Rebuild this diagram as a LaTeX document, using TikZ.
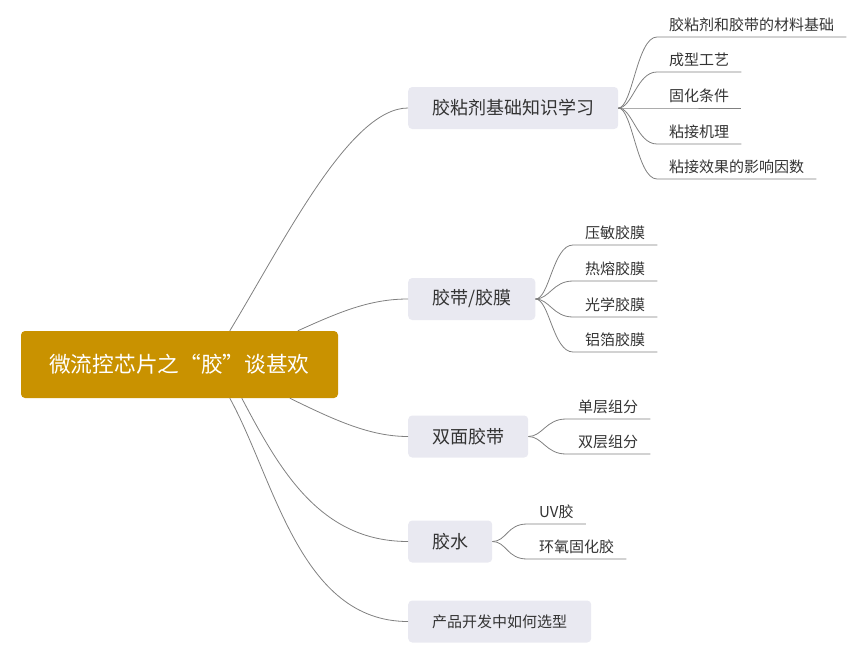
\documentclass[tikz,border=0pt]{standalone}
\usepackage{fontspec}
\setmainfont{Noto Sans CJK SC}
\definecolor{rootcol}{HTML}{C99200}
\definecolor{branchcol}{HTML}{E9E9F1}
\definecolor{textcol}{HTML}{333333}
\definecolor{linecol}{HTML}{808080}

\begin{document}
\begin{tikzpicture}
[x=1pt, y=-1pt,
 root/.style={fill=rootcol, text=white, rounded corners=4pt, minimum width=317pt, minimum height=67pt, font=\fontsize{21.7}{26}\selectfont},
 branch/.style={fill=branchcol, text=textcol, rounded corners=4pt, minimum height=42pt, inner xsep=24pt, anchor=west, font=\fontsize{18}{22}\selectfont},
 leaf/.style={text=textcol, inner xsep=12pt, inner ysep=5pt, anchor=south west, font=\fontsize{15}{18}\selectfont},
 link/.style={draw=linecol, line width=0.8pt}]
\useasboundingbox (0,0) rectangle (863,651);

\node [root] (root) at (179.5,364.5) {微流控芯片之“胶”谈甚欢};
\node [branch] (base) at (408,108) {胶粘剂基础知识学习};
\node [branch] (film) at (408,299) {胶带/胶膜};
\node [branch] (tape) at (408,436.5) {双面胶带};
\node [branch] (glue) at (408,541.5) {胶水};
\node [branch, font=\fontsize{15}{18}\selectfont] (pick) at (408,621.5) {产品开发中如何选型};

\draw [link] ([xshift=209pt]root.north west) .. controls +(55,-91) and +(-58,0) .. (base.west);
\draw [link] ([xshift=277pt]root.north west) .. controls +(42,-19) and +(-38,0) .. (film.west);
\draw [link] ([xshift=269pt]root.south west) .. controls +(45,22) and +(-38,0) .. (tape.west);
\draw [link] ([xshift=221pt]root.south west) .. controls +(38,72) and +(-88,0) .. (glue.west);
\draw [link] ([xshift=209pt]root.south west) .. controls +(45,82) and +(-108,0) .. (pick.west);

\foreach \i/\y/\txt in {1/37/胶粘剂和胶带的材料基础, 2/72/成型工艺, 3/108/固化条件, 4/144/粘接机理, 5/179/粘接效果的影响因数}{
	\node [leaf] (base\i) at (657,\y) {\txt};
	\draw [link] (base.east) .. controls +(14,0) and +(-20,0) .. (base\i.south west) -- (base\i.south east);
}
\foreach \i/\y/\txt in {1/245/压敏胶膜, 2/281/热熔胶膜, 3/317/光学胶膜, 4/352/铝箔胶膜}{
	\node [leaf] (film\i) at (573,\y) {\txt};
	\draw [link] (film.east) .. controls +(14,0) and +(-20,0) .. (film\i.south west) -- (film\i.south east);
}
\foreach \i/\y/\txt in {1/419/单层组分, 2/454/双层组分}{
	\node [leaf] (tape\i) at (566,\y) {\txt};
	\draw [link] (tape.east) .. controls +(14,0) and +(-20,0) .. (tape\i.south west) -- (tape\i.south east);
}
\foreach \i/\y/\txt in {1/524/UV胶, 2/559/环氧固化胶}{
	\node [leaf] (glue\i) at (527,\y) {\txt};
	\draw [link] (glue.east) .. controls +(14,0) and +(-20,0) .. (glue\i.south west) -- (glue\i.south east);
}
\end{tikzpicture}
\end{document}
